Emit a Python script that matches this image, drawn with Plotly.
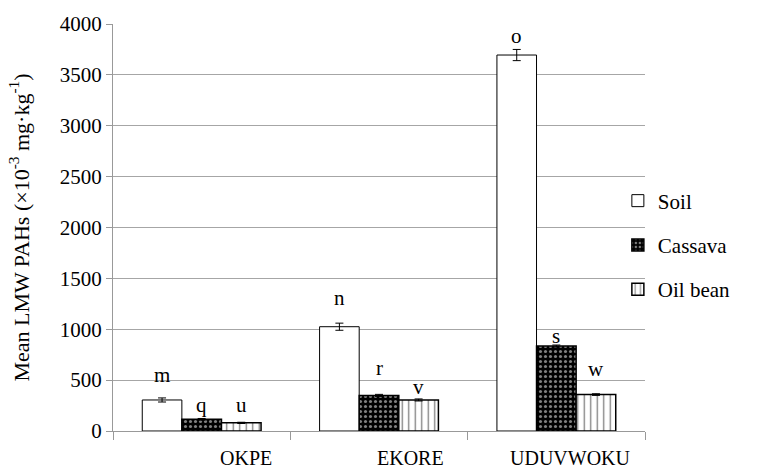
import plotly.graph_objects as go

categories = ["OKPE", "EKORE", "UDUVWOKU"]
soil = [305, 1025, 3695]
cassava = [115, 350, 835]
oil_bean = [80, 305, 358]
soil_err = [20, 35, 55]
cassava_err = [8, 10, 10]
oil_bean_err = [6, 10, 8]
soil_letters = ["m", "n", "o"]
cassava_letters = ["q", "r", "s"]
oil_bean_letters = ["u", "v", "w"]
soil_letter_y = [550, 1305, 3880]
cassava_letter_y = [255, 620, 935]
oil_bean_letter_y = [255, 430, 605]
yticks = [0, 500, 1000, 1500, 2000, 2500, 3000, 3500, 4000]

FONT = "Liberation Serif, Times New Roman, serif"

fig = go.Figure()
err_style = dict(type="data", thickness=1, width=4, color="black")
fig.add_trace(go.Bar(
    name="Soil", x=categories, y=soil,
    error_y=dict(array=soil_err, **err_style),
    marker=dict(color="white", line=dict(color="black", width=1)),
    legendgroup="a"))
fig.add_trace(go.Bar(
    name="Cassava", x=categories, y=cassava,
    error_y=dict(array=cassava_err, **err_style),
    marker=dict(color="black", line=dict(color="black", width=1.5),
                pattern=dict(shape=".", bgcolor="black", fgcolor="white",
                             size=5, solidity=0.3)),
    legendgroup="b"))
fig.add_trace(go.Bar(
    name="Oil bean", x=categories, y=oil_bean,
    error_y=dict(array=oil_bean_err, **err_style),
    marker=dict(color="white", line=dict(color="black", width=1.5),
                pattern=dict(shape="|", bgcolor="white", fgcolor="black",
                             size=6.5, solidity=0.2)),
    legendgroup="c"))

offsets = [-0.225, 0.0, 0.225]
annotations = []
for series_letters, series_y, off in [
        (soil_letters, soil_letter_y, offsets[0]),
        (cassava_letters, cassava_letter_y, offsets[1]),
        (oil_bean_letters, oil_bean_letter_y, offsets[2])]:
    for i, (lt, yy) in enumerate(zip(series_letters, series_y)):
        annotations.append(dict(x=i + off, y=yy, xref="x", yref="y",
                                text=lt, showarrow=False,
                                xanchor="center", yanchor="middle",
                                font=dict(family=FONT, size=21, color="black")))

label_shift = [0.25, 0.18, 0.08]
for i, c in enumerate(categories):
    annotations.append(dict(x=i + label_shift[i], y=0, xref="x", yref="paper",
                            xanchor="center", yanchor="middle",
                            yshift=-27, text=c, showarrow=False,
                            font=dict(family=FONT, size=20, color="black")))

fig.update_layout(
    width=778, height=471,
    margin=dict(l=113, r=133, t=24, b=40),
    paper_bgcolor="white", plot_bgcolor="white",
    font=dict(family=FONT, size=21, color="black"),
    barmode="group", bargap=0.33, bargroupgap=0,
    showlegend=True,
    legend=dict(x=0.949, xanchor="left", y=0.457, yanchor="middle",
                bgcolor="rgba(0,0,0,0)", tracegroupgap=14, itemwidth=30,
                font=dict(family=FONT, size=21, color="black")),
    annotations=annotations,
)
fig.update_xaxes(
    showticklabels=False, tickson="boundaries", ticks="outside", ticklen=8,
    tickcolor="#999999", showline=True, linecolor="#999999", linewidth=1,
    showgrid=False, range=[-0.5, 2.5])
fig.update_yaxes(
    range=[0, 4000], tickvals=yticks, ticks="outside", ticklen=6,
    tickcolor="#999999", showline=True, linecolor="#999999", linewidth=1,
    showgrid=True, gridcolor="#a6a6a6", gridwidth=1, zeroline=False,
    tickfont=dict(family=FONT, size=21),
    title=dict(text="Mean LMW PAHs (×10<sup>-3</sup> mg·kg<sup>-1</sup>)",
               font=dict(family=FONT, size=22), standoff=24))

fig.write_html("out.html", config={"displayModeBar": False},
               post_script="document.body.style.margin='0';")
